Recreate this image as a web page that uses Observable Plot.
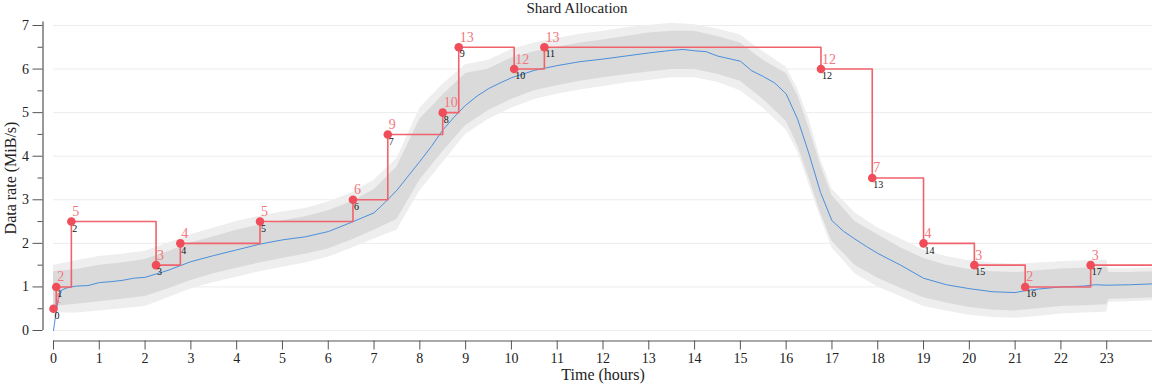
<!DOCTYPE html>
<html>
<head>
<meta charset="utf-8">
<script src="https://cdn.jsdelivr.net/npm/d3@7"></script>
<script src="https://cdn.jsdelivr.net/npm/@observablehq/plot@0.6"></script>
<style>
  html, body { margin: 0; padding: 0; background: #fff; }
</style>
</head>
<body>
<div id="chart"></div>
<script>
// Step allocation points
const stepHours  = [0, 0.06, 0.39, 2.24, 2.77, 4.51, 6.54, 7.30, 8.50, 8.85, 10.06, 10.72, 16.76, 17.88, 19.0, 20.11, 21.22, 22.65];
const stepRate   = [0.5, 1, 2.5, 1.5, 2, 2.5, 3, 4.5, 5, 6.5, 6, 6.5, 6, 3.5, 2, 1.5, 1, 1.5];
const shardCount = [1, 2, 5, 3, 4, 5, 6, 9, 10, 13, 12, 13, 12, 7, 4, 3, 2, 3];
const endHour = 24;

// Moving average of data rate (blue)
const meanHours = [0, 0.04, 0.1, 0.18, 0.3, 0.5, 0.75, 1, 1.25, 1.5, 1.75, 2, 2.25, 2.5, 2.75, 3, 3.5, 4, 4.5, 5, 5.5, 6, 6.5, 7, 7.25, 7.5, 7.75, 8, 8.25, 8.5, 8.75, 9, 9.25, 9.5, 9.75, 10, 10.5, 11, 11.5, 12, 12.5, 13, 13.5, 13.75, 14, 14.25, 14.5, 14.75, 15, 15.25, 15.5, 15.75, 16, 16.25, 16.5, 16.75, 17, 17.25, 17.5, 17.75, 18, 18.5, 19, 19.5, 20, 20.5, 21, 21.25, 21.5, 22, 22.5, 22.75, 23, 23.5, 24];
const meanRate  = [0, 0.3, 0.7, 0.93, 0.98, 1.02, 1.03, 1.1, 1.12, 1.15, 1.2, 1.22, 1.3, 1.38, 1.48, 1.58, 1.72, 1.85, 1.98, 2.08, 2.15, 2.27, 2.48, 2.7, 2.95, 3.22, 3.55, 3.88, 4.22, 4.6, 4.9, 5.17, 5.38, 5.55, 5.68, 5.8, 5.97, 6.08, 6.17, 6.23, 6.3, 6.37, 6.43, 6.45, 6.42, 6.4, 6.3, 6.24, 6.18, 5.96, 5.83, 5.68, 5.43, 4.85, 4.05, 3.17, 2.52, 2.28, 2.1, 1.93, 1.77, 1.5, 1.2, 1.05, 0.96, 0.89, 0.87, 0.92, 0.95, 1.0, 1.02, 1.05, 1.04, 1.05, 1.07];

// Raw data rate envelope (gray band)
const bandHours = [0, 0.5, 1, 1.5, 2, 2.5, 3, 3.5, 4, 4.5, 5, 5.5, 6, 6.5, 7, 7.5, 8, 8.5, 9, 9.5, 10, 10.5, 11, 11.5, 12, 12.5, 13, 13.5, 14, 14.5, 15, 15.5, 16, 16.25, 16.5, 16.75, 17, 17.5, 18, 18.5, 19, 19.5, 20, 20.5, 21, 21.5, 22, 22.5, 23, 23.05, 23.5, 24];
const spikeLow  = [0.4, 0.4, 0.45, 0.5, 0.55, 0.75, 0.95, 1.1, 1.22, 1.35, 1.45, 1.55, 1.68, 1.88, 2.1, 2.3, 3.2, 3.85, 4.5, 4.85, 5.1, 5.3, 5.42, 5.52, 5.6, 5.68, 5.74, 5.8, 5.8, 5.7, 5.5, 5.1, 4.6, 4.1, 3.35, 2.6, 1.9, 1.3, 1.0, 0.78, 0.55, 0.45, 0.35, 0.3, 0.28, 0.32, 0.38, 0.4, 0.42, 0.65, 0.66, 0.68];
const coreLow   = [0.55, 0.6, 0.66, 0.72, 0.78, 0.95, 1.15, 1.3, 1.43, 1.55, 1.65, 1.75, 1.87, 2.07, 2.3, 2.55, 3.45, 4.1, 4.7, 5.05, 5.3, 5.5, 5.62, 5.72, 5.8, 5.87, 5.93, 5.99, 5.99, 5.88, 5.72, 5.3, 4.8, 4.25, 3.5, 2.7, 2.05, 1.5, 1.2, 0.97, 0.75, 0.63, 0.53, 0.47, 0.45, 0.5, 0.55, 0.57, 0.59, 0.72, 0.73, 0.75];
const coreHigh  = [1.35, 1.4, 1.5, 1.55, 1.63, 1.81, 2.01, 2.15, 2.3, 2.42, 2.52, 2.61, 2.75, 2.95, 3.23, 3.75, 4.85, 5.4, 5.9, 6.0, 6.25, 6.4, 6.5, 6.6, 6.67, 6.75, 6.83, 6.87, 6.87, 6.75, 6.6, 6.2, 5.9, 5.4, 4.65, 3.8, 3.1, 2.5, 2.2, 1.9, 1.65, 1.5, 1.4, 1.35, 1.33, 1.37, 1.41, 1.43, 1.45, 1.33, 1.33, 1.35];
const spikeHigh = [1.5, 1.6, 1.7, 1.75, 1.82, 2.0, 2.2, 2.35, 2.5, 2.62, 2.72, 2.8, 2.95, 3.15, 3.45, 3.95, 5.1, 5.65, 6.1, 6.2, 6.45, 6.6, 6.7, 6.8, 6.87, 6.95, 7.0, 7.05, 7.02, 6.92, 6.78, 6.4, 6.05, 5.55, 4.85, 3.95, 3.25, 2.7, 2.35, 2.1, 1.85, 1.7, 1.6, 1.55, 1.52, 1.55, 1.58, 1.6, 1.62, 1.42, 1.42, 1.44];

const yTicks = [0, 1, 2, 3, 4, 5, 6, 7];
const yMinorTicks = [0.5, 1.5, 2.5, 3.5, 4.5, 5.5, 6.5];
const xTicks = d3.range(0, 24);

// Build tables
const steps = stepHours.map((h, i) => ({h, v: stepRate[i], n: shardCount[i], i}));
const stepLine = steps.concat([{h: endHour, v: stepRate[stepRate.length - 1]}]);
const mean = meanHours.map((h, i) => ({h, v: meanRate[i]}));
const band = bandHours.map((h, i) => ({h, lo2: spikeLow[i], lo1: coreLow[i], hi1: coreHigh[i], hi2: spikeHigh[i]}));

const FONT = "'Liberation Serif', 'DejaVu Serif', serif";
const RED_LINE = "#f0626c";
const RED_DOT = "#ee4d59";
const RED_TEXT = "#f27880";
const AXIS = "#555";
const fmt = d3.format("d");

const chart = Plot.plot({
  width: 1152,
  height: 384,
  marginLeft: 53,
  marginRight: 0,
  marginTop: 25,
  marginBottom: 54,
  style: {fontFamily: FONT, fontSize: "14px", background: "#fff", color: "#222"},
  x: {domain: [0, 24], axis: null},
  y: {domain: [0, 7], axis: null},
  marks: [
    Plot.gridY(yTicks, {stroke: "#ececec", strokeOpacity: 1}),
    Plot.areaY(band, {x: "h", y1: "lo2", y2: "hi2", fill: "#eeeeee"}),
    Plot.areaY(band, {x: "h", y1: "lo1", y2: "hi1", fill: "#dadada"}),
    Plot.line(mean, {x: "h", y: "v", stroke: "#4a8fda", strokeWidth: 1}),
    Plot.line(stepLine, {x: "h", y: "v", curve: "step-after", stroke: RED_LINE, strokeWidth: 1.6}),
    Plot.dot(steps, {x: "h", y: "v", r: 4.3, fill: RED_DOT}),
    Plot.text(steps, {x: "h", y: "v", text: "n", dx: 1, dy: -10, textAnchor: "start", fontSize: 14, fontFamily: FONT, fill: RED_TEXT}),
    Plot.text(steps, {x: "h", y: "v", text: "i", dx: 1, dy: 7, textAnchor: "start", fontSize: 10, fontFamily: FONT, fill: "#111"}),
    // y axis
    Plot.ruleX([0], {dx: -10.5, stroke: AXIS, strokeWidth: 1.2, y1: 0, y2: 7.08}),
    Plot.axisY({ticks: yTicks, tickSize: 10, dx: -10.5, tickPadding: 4, tickFormat: fmt, label: null, stroke: AXIS, fontSize: 14, fontFamily: FONT, fill: "#222"}),
    Plot.axisY({ticks: yMinorTicks, tickSize: 5, dx: -10.5, tickFormat: () => "", label: null, stroke: AXIS}),
    // x axis
    Plot.ruleY([0], {dy: 10.5, stroke: AXIS, strokeWidth: 1.2}),
    Plot.axisX({ticks: xTicks, tickSize: 9, dy: 10.5, tickPadding: 3, tickFormat: fmt, label: null, stroke: AXIS, fontSize: 14, fontFamily: FONT, fill: "#222"}),
    // labels
    Plot.text(["Data rate (MiB/s)"], {text: d => d, frameAnchor: "left", dx: -43, rotate: -90, textAnchor: "middle", lineAnchor: "middle", fontSize: 16, fontFamily: FONT, fill: "#222"}),
    Plot.text(["Time (hours)"], {text: d => d, frameAnchor: "bottom", dy: 44, lineAnchor: "middle", fontSize: 16, fontFamily: FONT, fill: "#222"}),
    Plot.text(["Shard Allocation"], {text: d => d, frameAnchor: "top", dy: -17, dx: -26, lineAnchor: "middle", fontSize: 15, fontFamily: FONT, fill: "#222"})
  ]
});
document.getElementById("chart").appendChild(chart);
</script>
</body>
</html>
